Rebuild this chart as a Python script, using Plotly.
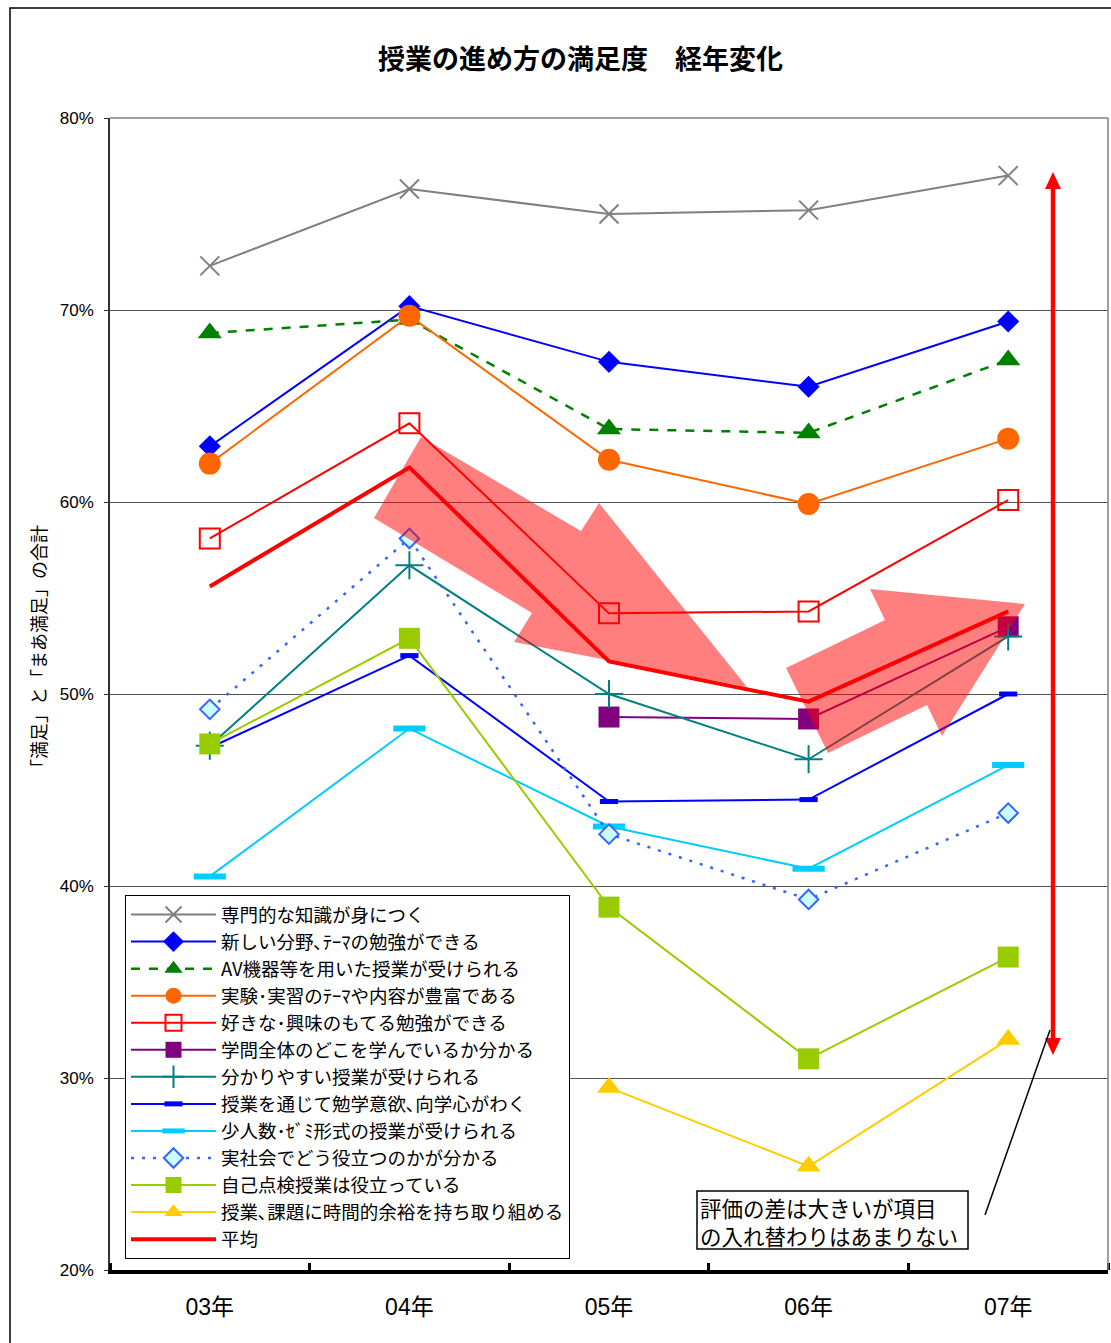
import plotly.graph_objects as go

years = ["03年", "04年", "05年", "06年", "07年"]
xpos = [0, 1, 2, 3, 4]

s_senmon = [72.3, 76.3, 75.0, 75.2, 77.0]
s_atarashii = [62.9, 70.2, 67.3, 66.0, 69.4]
s_av = [68.8, 69.5, 63.8, 63.6, 67.4]
s_jikken = [62.0, 69.7, 62.2, 59.9, 63.3]
s_sukina = [58.1, 64.1, 54.2, 54.3, 60.1]
s_gakumon = [None, None, 48.8, 48.7, 53.5]
s_wakari = [47.3, 56.7, 50.0, 46.6, 53.0]
s_iyoku = [47.2, 52.0, 44.4, 44.5, 50.0]
s_shoninzu = [40.5, 48.2, 43.1, 40.9, 46.3]
s_jissha = [49.2, 58.1, 42.7, 39.3, 43.8]
s_jiko = [47.4, 52.9, 38.9, 31.0, 36.3]
s_yoyu = [None, None, 29.5, 25.4, 32.0]
s_heikin = [55.6, 61.8, 51.7, 49.6, 54.3]

yticks = [20, 30, 40, 50, 60, 70, 80]
ytick_text = ["20%", "30%", "40%", "50%", "60%", "70%", "80%"]

note_lines = ["評価の差は大きいが項目", "の入れ替わりはあまりない"]

CJK = "Noto Sans CJK JP"

series = [
    ("専門的な知識が身につく", s_senmon, dict(color="#808080", width=2), dict(symbol="x-thin", size=19, color="#808080", line=dict(width=2, color="#808080"))),
    ("新しい分野､ﾃｰﾏの勉強ができる", s_atarashii, dict(color="#0000FF", width=2), dict(symbol="diamond", size=17, color="#0000FF")),
    ("AV機器等を用いた授業が受けられる", s_av, dict(color="#008000", width=2.5, dash="dash"), dict(symbol="triangle-up", size=21, color="#008000")),
    ("実験･実習のﾃｰﾏや内容が豊富である", s_jikken, dict(color="#FF6600", width=2), dict(symbol="circle", size=22, color="#FF6600")),
    ("好きな･興味のもてる勉強ができる", s_sukina, dict(color="#FF0000", width=2), dict(symbol="square-open", size=20, color="#FF0000", line=dict(width=2, color="#FF0000"))),
    ("学問全体のどこを学んでいるか分かる", s_gakumon, dict(color="#800080", width=2), dict(symbol="square", size=21, color="#800080")),
    ("分かりやすい授業が受けられる", s_wakari, dict(color="#008080", width=2), dict(symbol="cross-thin", size=20, color="#008080", line=dict(width=2, color="#008080"))),
    ("授業を通じて勉学意欲､向学心がわく", s_iyoku, dict(color="#0000FF", width=2), dict(symbol="line-ew", size=13, color="#0000FF", line=dict(width=5, color="#0000FF"))),
    ("少人数･ｾﾞﾐ形式の授業が受けられる", s_shoninzu, dict(color="#00CCFF", width=2), dict(symbol="line-ew", size=23, color="#00CCFF", line=dict(width=6, color="#00CCFF"))),
    ("実社会でどう役立つのかが分かる", s_jissha, dict(color="#3366FF", width=2.5, dash="3px,8px"), dict(symbol="diamond", size=15, color="#CCFFFF", line=dict(width=2, color="#3366FF"))),
    ("自己点検授業は役立っている", s_jiko, dict(color="#99CC00", width=2), dict(symbol="square", size=21, color="#99CC00")),
    ("授業､課題に時間的余裕を持ち取り組める", s_yoyu, dict(color="#FFCC00", width=2), dict(symbol="triangle-up", size=21, color="#FFCC00")),
]

fig = go.Figure()
for name, vals, ln, mk in series:
    fig.add_trace(go.Scatter(x=xpos, y=vals, name=name, mode="lines+markers",
                             line=ln, marker=mk))
fig.add_trace(go.Scatter(x=xpos, y=s_heikin, name="平均", mode="lines",
                         line=dict(color="#FF0000", width=4)))

# pixel -> data helpers for decorative shapes
L, R, T, B = 110, 1108, 118, 1270
def px2x(px):
    return (px - L) / ((R - L) / 5.0) - 0.5
def px2y(py):
    return 80 - (py - T) / ((B - T) / 60.0)

def path(pts):
    s = "M " + " L ".join(f"{px2x(a):.4f},{px2y(b):.4f}" for a, b in pts) + " Z"
    return s

arrow1 = [(421, 437), (581, 531), (599, 503), (747, 687), (514, 642), (532, 613), (374, 518)]
arrow2 = [(786, 668), (885, 620), (870, 589), (1025, 604), (942, 736), (927, 705), (828, 753)]

shapes = []
for a in (arrow1, arrow2):
    shapes.append(dict(type="path", xref="x", yref="y", path=path(a),
                       fillcolor="rgba(255,0,0,0.5)", line=dict(width=0), layer="above"))

# double-headed red arrow
shapes.append(dict(type="line", xref="x", yref="y", x0=px2x(1053), x1=px2x(1053),
                   y0=px2y(186), y1=px2y(1040), line=dict(color="#FF0000", width=4.5), layer="above"))
shapes.append(dict(type="path", xref="x", yref="y",
                   path=path([(1053, 172), (1061, 189), (1045, 189)]),
                   fillcolor="#FF0000", line=dict(width=0), layer="above"))
shapes.append(dict(type="path", xref="x", yref="y",
                   path=path([(1053, 1055), (1061, 1038), (1045, 1038)]),
                   fillcolor="#FF0000", line=dict(width=0), layer="above"))
# leader line
shapes.append(dict(type="line", xref="x", yref="y", x0=px2x(985), y0=px2y(1215),
                   x1=px2x(1050), y1=px2y(1030), line=dict(color="black", width=1.5), layer="above"))
# note box
shapes.append(dict(type="rect", xref="x", yref="y", x0=px2x(697), x1=px2x(968),
                   y0=px2y(1249), y1=px2y(1191), fillcolor="white",
                   line=dict(color="black", width=1.5), layer="above"))
# plot area top/right border
shapes.append(dict(type="line", xref="paper", yref="paper", x0=0, x1=1, y0=1, y1=1,
                   line=dict(color="#808080", width=1.5)))
shapes.append(dict(type="line", xref="paper", yref="paper", x0=1, x1=1, y0=0, y1=1,
                   line=dict(color="#808080", width=1.5)))
# outer chart frame
W = R - L
H = B - T
shapes.append(dict(type="rect", xref="paper", yref="paper",
                   x0=(10 - L) / W, x1=(1130 - L) / W, y0=(B - 1360) / H, y1=(B - 8) / H,
                   line=dict(color="black", width=1.5), fillcolor="rgba(0,0,0,0)"))

annotations = [
    dict(text="<b>授業の進め方の満足度　経年変化</b>", xref="paper", yref="paper",
         x=(580 - L) / W, y=(B - 57) / H, showarrow=False, xanchor="center", yanchor="middle",
         font=dict(family=CJK, size=27, color="black")),
    dict(text="「満足」と「まあ満足」の合計", xref="paper", yref="paper",
         x=(38 - L) / W, y=(B - 651) / H, showarrow=False, textangle=-90,
         xanchor="center", yanchor="middle", font=dict(family=CJK, size=18, color="black")),
]
for i, line_text in enumerate(note_lines):
    annotations.append(dict(text=line_text, xref="x", yref="y",
                            x=px2x(699), y=px2y(1207 + 28 * i), showarrow=False,
                            xanchor="left", yanchor="middle", borderpad=0,
                            font=dict(family=CJK, size=21.5, color="black")))

fig.update_layout(
    width=1111, height=1343,
    margin=dict(l=L, r=1111 - R, t=T, b=1343 - B),
    paper_bgcolor="white", plot_bgcolor="white",
    showlegend=True,
    legend=dict(x=(125 - L) / W, y=(B - 895) / H, xanchor="left", yanchor="top",
                bgcolor="white", bordercolor="black", borderwidth=1,
                font=dict(family=CJK, size=18.5, color="black"),
                tracegroupgap=0, itemwidth=85),
    xaxis=dict(range=[-0.5, 4.5], tickvals=xpos, ticktext=years, ticks="",
               showgrid=False, zeroline=False, showline=True, linecolor="black", linewidth=3.5,
               tickfont=dict(family="Liberation Sans, " + CJK, size=23, color="black"),
               ticklabelstandoff=14,
               minor=dict(tickvals=[-0.5, 0.5, 1.5, 2.5, 3.5, 4.5], ticks="inside",
                          ticklen=7, tickwidth=3, tickcolor="black", showgrid=False)),
    yaxis=dict(range=[20, 80], tickvals=yticks, ticktext=ytick_text, ticks="outside",
               ticklen=4, tickcolor="#333", showgrid=True, gridcolor="#555", gridwidth=1,
               zeroline=False, showline=True, linecolor="#333", linewidth=1.5,
               tickfont=dict(family="Liberation Sans", size=17, color="black"),
               ticklabelstandoff=7),
    shapes=shapes,
    annotations=annotations,
)

fig.write_html("out.html", config={"displayModeBar": False},
               post_script="document.body.style.margin='0';")
